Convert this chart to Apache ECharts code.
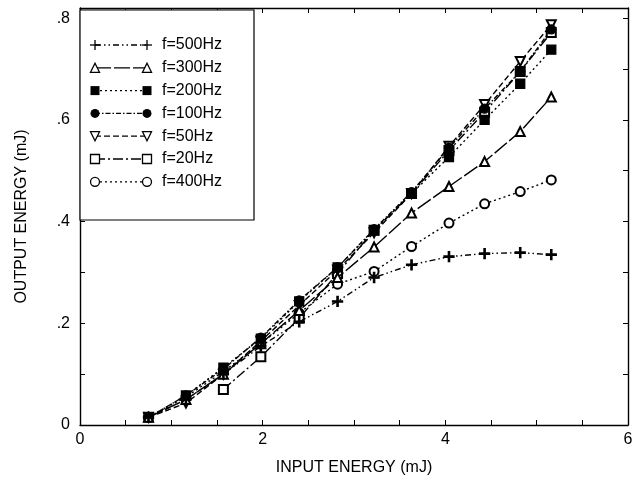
<!DOCTYPE html>
<html><head><meta charset="utf-8">
<script src="https://cdn.jsdelivr.net/npm/echarts@6/dist/echarts.min.js"></script>
<style>html,body{margin:0;padding:0;background:#fff}#c{width:643px;height:495px}</style>
</head><body><div id="c"></div>
<script>
// ---- data ----
const inputEnergy = [0.75, 1.16, 1.57, 1.98, 2.40, 2.82, 3.22, 3.63, 4.04, 4.43, 4.82, 5.16];
const f500 = [0.015, 0.050, 0.100, 0.155, 0.203, 0.243, 0.290, 0.315, 0.331, 0.337, 0.339, 0.335];
const f300 = [0.015, 0.050, 0.100, 0.160, 0.225, 0.290, 0.350, 0.417, 0.469, 0.518, 0.577, 0.645];
const f200 = [0.015, 0.058, 0.113, 0.170, 0.243, 0.310, 0.383, 0.455, 0.527, 0.600, 0.671, 0.738];
const f100 = [0.015, 0.058, 0.110, 0.172, 0.245, 0.310, 0.385, 0.458, 0.545, 0.622, 0.695, 0.778];
const f50  = [0.015, 0.043, 0.100, 0.165, 0.235, 0.305, 0.378, 0.455, 0.548, 0.630, 0.715, 0.787];
const f20  = [null,  null,  0.070, 0.134, 0.210, 0.298, 0.383, 0.455, 0.540, 0.615, 0.695, 0.772];
const f400 = [0.015, 0.055, 0.105, 0.160, 0.220, 0.277, 0.302, 0.351, 0.397, 0.435, 0.459, 0.482];
const seriesNames = ['f=500Hz', 'f=300Hz', 'f=200Hz', 'f=100Hz', 'f=50Hz', 'f=20Hz', 'f=400Hz'];
const seriesValues = [f500, f300, f200, f100, f50, f20, f400];
const xTickLabels = ['0', '2', '4', '6'];
const yTickLabels = ['0', '.2', '.4', '.6', '.8'];

// ---- styles ----
const plusPath = 'path://M4.35,0 H5.65 V4.35 H10 V5.65 H5.65 V10 H4.35 V5.65 H0 V4.35 H4.35 Z';
const styles = [
  {symbol: plusPath, size: 10, rotate: 0, dash: [6, 3, 1.5, 3, 1.5, 3]},
  {symbol: 'emptyTriangle', size: 9, rotate: 0, dash: [16, 3]},
  {symbol: 'rect', size: 9, rotate: 0, dash: [2, 3]},
  {symbol: 'circle', size: 9, rotate: 0, dash: [5, 2, 1.5, 2]},
  {symbol: 'emptyTriangle', size: 9, rotate: 180, dash: [6, 3]},
  {symbol: 'emptyRect', size: 9, rotate: 0, dash: [10, 3, 2, 3]},
  {symbol: 'emptyCircle', size: 9, rotate: 0, dash: [2, 3]}
];
const FONT = '"Liberation Sans", Arial, Helvetica, sans-serif';
const FS = 16;

const series = seriesNames.map((name, i) => ({
  name, type: 'line',
  data: inputEnergy.map((x, j) => [x, seriesValues[i][j]]).filter(p => p[1] != null),
  symbol: styles[i].symbol, symbolSize: styles[i].size, symbolRotate: styles[i].rotate,
  itemStyle: {color: '#000', borderColor: '#000', borderWidth: 1.3},
  lineStyle: {color: '#000', width: 1.4, type: styles[i].dash},
  z: 10 - i, animation: false
}));

// ---- legend drawn as graphic ----
const legendEls = [{type: 'rect', shape: {x: 80, y: 10, width: 174, height: 210},
  style: {fill: '#fff', stroke: '#000', lineWidth: 1.2}, z: 100}];
function sym(i, cx, cy) {
  const s = 4.5, st = {stroke: '#000', lineWidth: 1.3, fill: '#fff'};
  switch (i) {
    case 0: return [{type: 'line', shape: {x1: cx - 5, y1: cy, x2: cx + 5, y2: cy}, style: st, z: 102},
                    {type: 'line', shape: {x1: cx, y1: cy - 5, x2: cx, y2: cy + 5}, style: st, z: 102}];
    case 1: return [{type: 'polygon', shape: {points: [[cx, cy - s], [cx + s, cy + s], [cx - s, cy + s]]}, style: st, z: 102}];
    case 2: return [{type: 'rect', shape: {x: cx - s, y: cy - s, width: 2 * s, height: 2 * s}, style: {fill: '#000'}, z: 102}];
    case 3: return [{type: 'circle', shape: {cx, cy, r: s}, style: {fill: '#000'}, z: 102}];
    case 4: return [{type: 'polygon', shape: {points: [[cx - s, cy - s], [cx + s, cy - s], [cx, cy + s]]}, style: st, z: 102}];
    case 5: return [{type: 'rect', shape: {x: cx - s, y: cy - s, width: 2 * s, height: 2 * s}, style: st, z: 102}];
    case 6: return [{type: 'circle', shape: {cx, cy, r: s}, style: st, z: 102}];
  }
}
seriesNames.forEach((name, i) => {
  const cy = 45 + i * 22.8;
  legendEls.push({type: 'line', shape: {x1: 95, y1: cy, x2: 147, y2: cy},
    style: {stroke: '#000', lineWidth: 1.3, lineDash: styles[i].dash}, z: 101});
  legendEls.push(...sym(i, 95, cy), ...sym(i, 147, cy));
  legendEls.push({type: 'text', x: 162, y: cy, z: 102,
    style: {text: name, font: FS + 'px ' + FONT, fill: '#000', textVerticalAlign: 'middle', verticalAlign: 'middle'}});
});

const xFmt = v => { const k = Math.round(v * 10); return (k % 20 === 0) ? xTickLabels[k / 20] : ''; };
const yFmt = v => { const k = Math.round(v * 10); return (k % 2 === 0 && k / 2 < yTickLabels.length) ? yTickLabels[k / 2] : ''; };
const axisCommon = {
  axisLine: {show: true, onZero: false, lineStyle: {color: '#000', width: 1.4}},
  axisTick: {show: true, inside: true, length: 5, lineStyle: {color: '#000', width: 1}},
  splitLine: {show: false}
};

const chart = echarts.init(document.getElementById('c'), null, {renderer: 'canvas'});
chart.setOption({
  backgroundColor: '#fff',
  animation: false,
  grid: {left: 80, right: 15, top: 8, bottom: 70},
  xAxis: [
    Object.assign({type: 'value', min: 0, max: 6, interval: 0.5, position: 'bottom',
      name: 'INPUT ENERGY (mJ)', nameLocation: 'middle', nameGap: 35,
      nameTextStyle: {fontFamily: FONT, fontSize: FS, color: '#000'},
      axisLabel: {formatter: xFmt, fontFamily: FONT, fontSize: FS, color: '#000', margin: 7, showMinLabel: true, showMaxLabel: true}}, axisCommon),
    Object.assign({type: 'value', min: 0, max: 6, interval: 0.5, position: 'top', axisLabel: {show: false}}, axisCommon)
  ],
  yAxis: [
    Object.assign({type: 'value', min: 0, max: 0.82, interval: 0.1, position: 'left',
      name: 'OUTPUT ENERGY (mJ)', nameLocation: 'middle', nameGap: 50, nameRotate: 90,
      nameTextStyle: {fontFamily: FONT, fontSize: FS, color: '#000'},
      axisLabel: {formatter: yFmt, fontFamily: FONT, fontSize: FS, color: '#000', margin: 10, showMaxLabel: false}}, axisCommon),
    Object.assign({type: 'value', min: 0, max: 0.82, interval: 0.1, position: 'right', axisLabel: {show: false}}, axisCommon)
  ],
  series: series,
  graphic: legendEls
});
</script></body></html>
